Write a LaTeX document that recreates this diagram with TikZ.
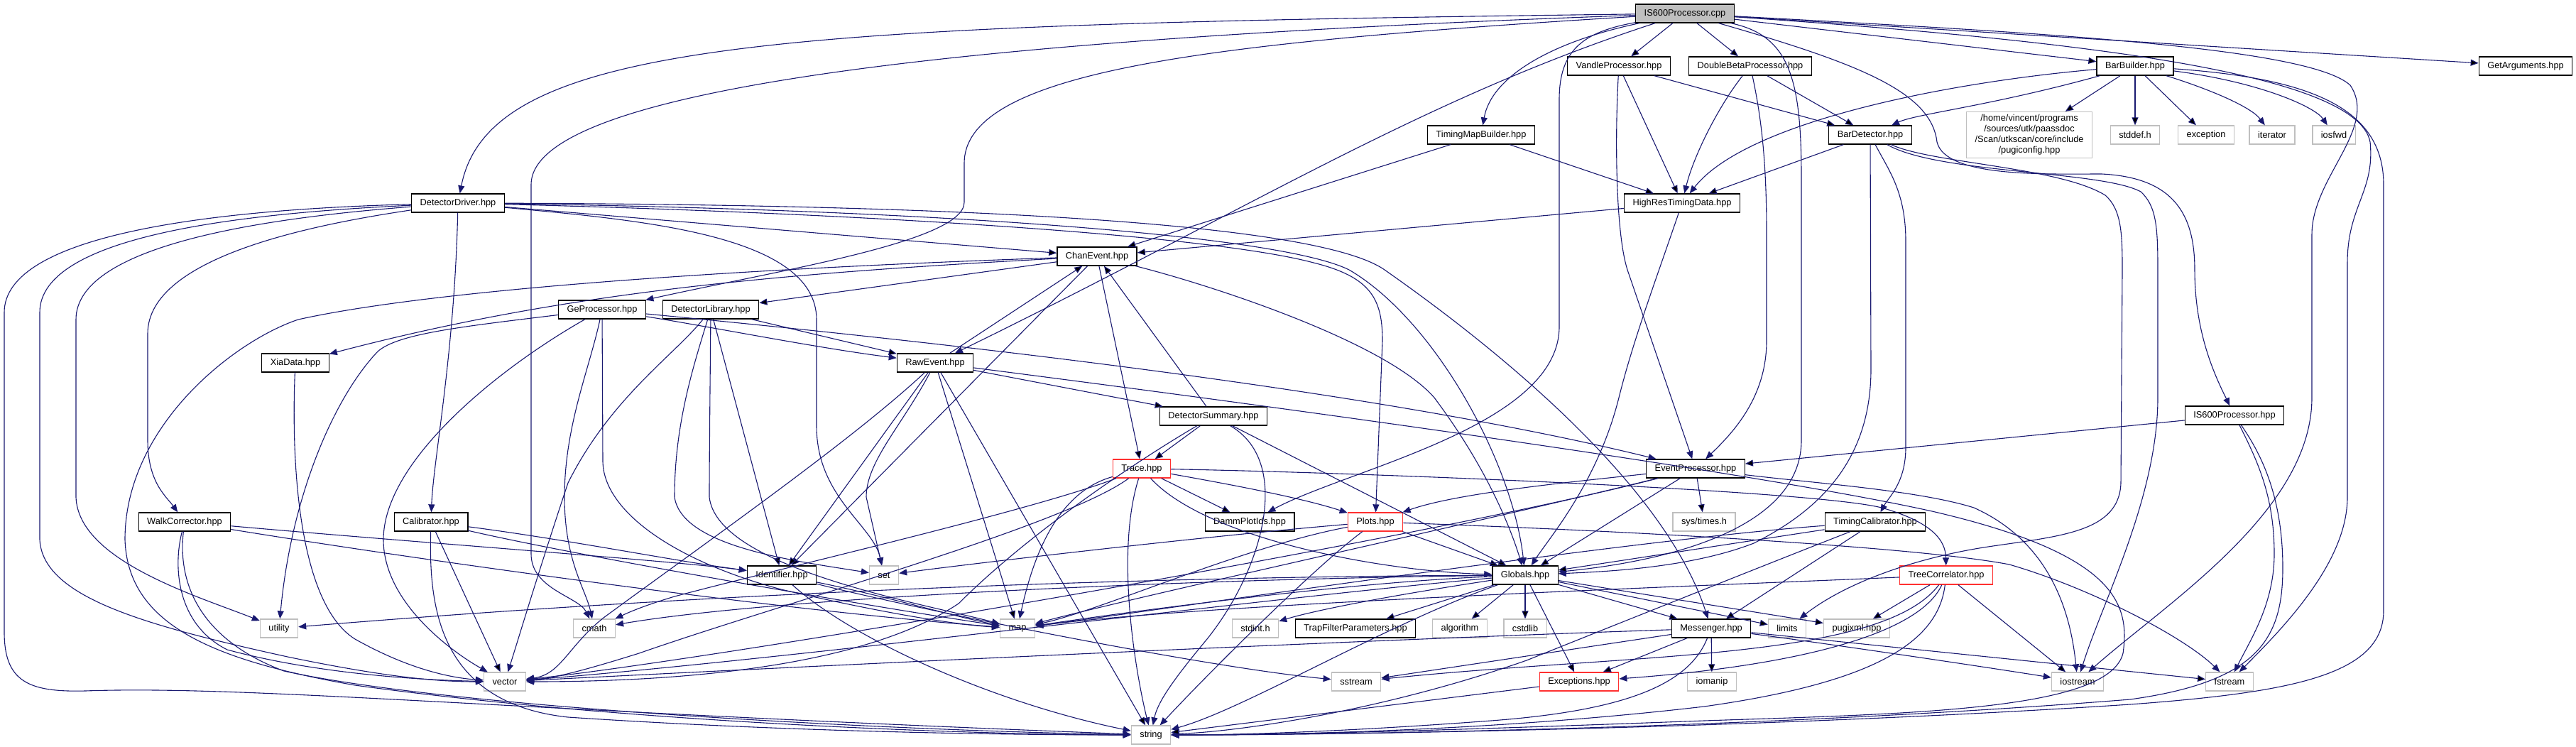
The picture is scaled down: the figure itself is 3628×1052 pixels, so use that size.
\documentclass[tikz,border=0pt]{standalone}
\usepackage{fontspec}
\setmainfont{Liberation Sans}
\usetikzlibrary{arrows.meta}
\definecolor{edgecol}{HTML}{191970}
\definecolor{sysgrey}{HTML}{BFBFBF}
\definecolor{partred}{HTML}{FF3030}
\tikzset{
  filebox/.style={draw=black, line width=1.3pt, fill=white, minimum height=26pt,
    inner xsep=12pt, inner ysep=0pt, font=\fontsize{12.8}{15}\selectfont},
  sysbox/.style={filebox, draw=sysgrey},
  partbox/.style={filebox, draw=partred},
  rootbox/.style={filebox, fill=sysgrey},
  incl/.style={draw=edgecol, line width=1.1pt, -{Triangle[length=11pt,width=9pt]}}
}
\begin{document}
\begin{tikzpicture}[x=1pt, y=-1pt]
  \useasboundingbox (0,0) rectangle (3628,1052);
  \node[rootbox] (root) at (2373,19) {IS600Processor.cpp};
  \node[filebox] (ddrv) at (645,286) {DetectorDriver.hpp};
  \node[filebox] (vandle) at (2280,93) {VandleProcessor.hpp};
  \node[filebox] (dbeta) at (2465,93) {DoubleBetaProcessor.hpp};
  \node[filebox] (barb) at (3007,93) {BarBuilder.hpp};
  \node[filebox] (getarg) at (3557,93) {GetArguments.hpp};
  \node[filebox] (tmb) at (2086,190) {TimingMapBuilder.hpp};
  \node[filebox] (bardet) at (2634,190) {BarDetector.hpp};
  \node[sysbox, align=center, inner ysep=4pt] (pugicfg) at (2858,190)
    {/home/vincent/programs\\/sources/utk/paassdoc\\/Scan/utkscan/core/include\\/pugiconfig.hpp};
  \node[sysbox] (stddef) at (3007,190) {stddef.h};
  \node[sysbox] (except) at (3107,190) {exception};
  \node[sysbox] (iter) at (3200,190) {iterator};
  \node[sysbox] (iosfwd) at (3287,190) {iosfwd};
  \node[filebox] (hrtd) at (2369,286) {HighResTimingData.hpp};
  \node[filebox] (chan) at (1545,361) {ChanEvent.hpp};
  \node[filebox] (gepr) at (848,436) {GeProcessor.hpp};
  \node[filebox] (detlib) at (1001,436) {DetectorLibrary.hpp};
  \node[filebox] (xia) at (416,511) {XiaData.hpp};
  \node[filebox] (raw) at (1317,511) {RawEvent.hpp};
  \node[filebox] (dsum) at (1709,586) {DetectorSummary.hpp};
  \node[filebox] (is600h) at (3147,585) {IS600Processor.hpp};
  \node[partbox] (trace) at (1608,660) {Trace.hpp};
  \node[filebox] (evproc) at (2388,660) {EventProcessor.hpp};
  \node[filebox] (walk) at (260,735) {WalkCorrector.hpp};
  \node[filebox] (calib) at (607,735) {Calibrator.hpp};
  \node[filebox] (damm) at (1760,735) {DammPlotIds.hpp};
  \node[partbox] (plots) at (1937,735) {Plots.hpp};
  \node[sysbox] (systimes) at (2400,735) {sys/times.h};
  \node[filebox] (tcal) at (2641,735) {TimingCalibrator.hpp};
  \node[filebox] (ident) at (1101,810) {Identifier.hpp};
  \node[sysbox] (set) at (1245,810) {set};
  \node[filebox] (globals) at (2148,810) {Globals.hpp};
  \node[partbox] (treecor) at (2741,810) {TreeCorrelator.hpp};
  \node[sysbox] (utility) at (393,885) {utility};
  \node[sysbox] (cmath) at (837,885) {cmath};
  \node[sysbox] (map) at (1433,885) {map};
  \node[sysbox] (stdint) at (1768,885) {stdint.h};
  \node[filebox] (trap) at (1909,885) {TrapFilterParameters.hpp};
  \node[sysbox] (algo) at (2056,885) {algorithm};
  \node[sysbox] (cstdlib) at (2148,885) {cstdlib};
  \node[filebox] (messenger) at (2410,885) {Messenger.hpp};
  \node[sysbox] (limits) at (2517,885) {limits};
  \node[sysbox] (pugixml) at (2615,885) {pugixml.hpp};
  \node[sysbox] (vector) at (711,960) {vector};
  \node[sysbox] (sstream) at (1910,960) {sstream};
  \node[partbox] (exceptions) at (2224,960) {Exceptions.hpp};
  \node[sysbox] (iomanip) at (2411,960) {iomanip};
  \node[sysbox] (iostream) at (2926,960) {iostream};
  \node[sysbox] (fstream) at (3140,960) {fstream};
  \node[sysbox] (string) at (1621,1035) {string};

  % IS600Processor.cpp
  \path[incl] (root) edge (vandle) edge (dbeta) edge (barb) edge (getarg);
  \draw[incl] (root) .. controls (1100,35) and (690,55) .. (ddrv);
  \draw[incl] (root) .. controls (1500,50) and (748,110) .. (748,260) -- (748,780) .. controls (748,830) and (815,840) .. (cmath);
  \draw[incl] (root) .. controls (1700,60) and (1358,100) .. (1358,230) -- (1358,285) .. controls (1358,340) and (1100,380) .. (gepr);
  \draw[incl] (root) .. controls (2000,140) and (1750,300) .. (raw);
  \draw[incl] (root) .. controls (2180,60) and (2100,110) .. (tmb);
  \draw[incl] (root) .. controls (2230,45) and (2196,70) .. (2196,140) -- (2196,460) .. controls (2196,600) and (1900,660) .. (damm);
  \draw[incl] (root) .. controls (2520,50) and (2537,110) .. (2537,250) -- (2537,620) .. controls (2537,760) and (2300,795) .. (globals);
  \draw[incl] (root) .. controls (2620,90) and (2720,130) .. (2728,200) .. controls (2740,250) and (2880,245) .. (2960,245)
    .. controls (3060,250) and (3091,300) .. (3091,380) .. controls (3091,470) and (3120,530) .. (is600h);
  \draw[incl] (root) .. controls (2850,45) and (3250,65) .. (3310,120) .. controls (3350,180) and (3256,250) .. (3256,330)
    -- (3256,560) .. controls (3256,720) and (3050,850) .. (iostream);
  \draw[incl] (root) .. controls (2900,55) and (3320,100) .. (3338,200) .. controls (3345,270) and (3306,290) .. (3306,370)
    -- (3306,700) .. controls (3306,790) and (3220,880) .. (fstream);

  % DetectorDriver.hpp
  \path[incl] (ddrv) edge (chan);
  \draw[incl] (ddrv) .. controls (300,295) and (6,330) .. (6,440) -- (6,890) .. controls (6,960) and (40,975) .. (120,973)
    .. controls (350,965) and (700,1000) .. (string);
  \draw[incl] (ddrv) .. controls (350,300) and (56,330) .. (56,440) -- (56,760) .. controls (60,840) and (200,880) .. (405,925)
    .. controls (550,955) and (620,960) .. (vector);
  \draw[incl] (ddrv) .. controls (400,305) and (107,340) .. (107,450) -- (107,700) .. controls (110,790) and (280,840) .. (utility);
  \draw[incl] (ddrv) .. controls (450,315) and (208,360) .. (208,470) -- (208,620) .. controls (208,680) and (235,700) .. (walk);
  \draw[incl] (ddrv) .. controls (640,500) and (610,650) .. (calib);
  \draw[incl] (ddrv) .. controls (900,310) and (1150,330) .. (1150,450) -- (1150,600) .. controls (1150,700) and (1230,740) .. (set);
  \draw[incl] (ddrv) .. controls (1200,300) and (1700,330) .. (1850,370) .. controls (1930,390) and (1947,420) .. (1947,480) -- (plots);
  \draw[incl] (ddrv) .. controls (1300,295) and (1800,330) .. (1900,380) .. controls (2020,450) and (2130,650) .. (globals);
  \draw[incl] (ddrv) .. controls (1300,288) and (1850,310) .. (1950,380) .. controls (2150,520) and (2350,700) .. (messenger);

  % VandleProcessor.hpp, DoubleBetaProcessor.hpp, TimingMapBuilder.hpp
  \path[incl] (vandle) edge (hrtd) edge (bardet);
  \draw[incl] (vandle) .. controls (2274,200) and (2276,330) .. (2292,380) -- (evproc);
  \path[incl] (dbeta) edge (bardet);
  \draw[incl] (dbeta) .. controls (2420,150) and (2385,220) .. (hrtd);
  \draw[incl] (dbeta) .. controls (2484,180) and (2488,250) .. (2488,330) -- (2488,480) .. controls (2488,560) and (2440,610) .. (evproc);
  \path[incl] (tmb) edge (hrtd) edge (chan);

  % BarBuilder.hpp
  \path[incl] (barb) edge (pugicfg) edge (stddef) edge (except);
  \draw[incl] (barb) .. controls (2750,115) and (2460,170) .. (hrtd);
  \draw[incl] (barb) .. controls (2800,150) and (2700,160) .. (bardet);
  \draw[incl] (barb) .. controls (3110,125) and (3170,150) .. (iter);
  \draw[incl] (barb) .. controls (3180,115) and (3260,150) .. (iosfwd);
  \draw[incl] (barb) .. controls (3250,110) and (3357,150) .. (3357,260) -- (3357,860) .. controls (3357,950) and (3230,975) .. (3000,992)
    .. controls (2500,1025) and (1900,1035) .. (string);

  % BarDetector.hpp
  \path[incl] (bardet) edge (hrtd);
  \draw[incl] (bardet) .. controls (2660,240) and (2684,270) .. (2684,340) -- (2684,630) .. controls (2684,680) and (2660,700) .. (tcal);
  \draw[incl] (bardet) -- (2635,520) .. controls (2635,650) and (2560,720) .. (2470,765) .. controls (2380,800) and (2260,805) .. (globals);
  \draw[incl] (bardet) .. controls (2720,230) and (2900,235) .. (2965,275) .. controls (2988,295) and (2989,330) .. (2989,380)
    -- (2987,680) .. controls (2985,750) and (2900,755) .. (2800,770) .. controls (2700,785) and (2600,820) .. (limits);
  \draw[incl] (bardet) .. controls (2730,245) and (2960,240) .. (3015,270) .. controls (3037,290) and (3039,320) .. (3039,380)
    -- (3039,560) .. controls (3039,700) and (2960,850) .. (iostream);

  % HighResTimingData.hpp
  \path[incl] (hrtd) edge (chan);
  \draw[incl] (hrtd) .. controls (2330,400) and (2300,480) .. (2280,560) .. controls (2250,680) and (2180,760) .. (globals);

  % ChanEvent.hpp
  \path[incl] (chan) edge (detlib) edge (ident) edge (trace);
  \draw[incl] (chan) .. controls (1100,385) and (800,410) .. (xia);
  \draw[incl] (chan) .. controls (1000,380) and (600,410) .. (420,450) .. controls (330,480) and (176,600) .. (176,760)
    .. controls (180,880) and (300,930) .. (500,965) .. controls (900,1020) and (1400,1035) .. (string);
  \draw[incl] (chan) .. controls (1700,400) and (1950,480) .. (2020,560) .. controls (2080,640) and (2120,720) .. (globals);

  % GeProcessor.hpp, XiaData.hpp, DetectorLibrary.hpp
  \draw[incl] (gepr) .. controls (1200,470) and (1900,540) .. (evproc);
  \draw[incl] (gepr) .. controls (1000,460) and (1150,490) .. (raw);
  \draw[incl] (gepr) .. controls (700,520) and (540,650) .. (540,760) .. controls (540,850) and (640,920) .. (vector);
  \draw[incl] (gepr) .. controls (830,520) and (795,600) .. (795,700) .. controls (795,790) and (825,830) .. (cmath);
  \draw[incl] (gepr) -- (849,650) .. controls (850,720) and (950,790) .. (1100,830) .. controls (1250,865) and (1350,880) .. (map);
  \draw[incl] (gepr) .. controls (650,460) and (560,470) .. (532,495) .. controls (470,560) and (410,700) .. (utility);
  \draw[incl] (xia) .. controls (410,650) and (420,850) .. (500,900) .. controls (580,945) and (640,955) .. (vector);
  \path[incl] (detlib) edge (raw) edge (ident);
  \draw[incl] (detlib) .. controls (950,500) and (860,560) .. (800,680) .. controls (760,800) and (730,900) .. (vector);
  \draw[incl] (detlib) .. controls (975,520) and (950,600) .. (950,700) .. controls (960,770) and (1120,790) .. (set);
  \draw[incl] (detlib) .. controls (1000,550) and (999,650) .. (999,700) .. controls (1010,800) and (1300,850) .. (map);

  % RawEvent.hpp, DetectorSummary.hpp
  \path[incl] (raw) edge (chan) edge (dsum) edge (ident) edge (map) edge (string);
  \draw[incl] (raw) .. controls (1270,600) and (1220,650) .. (1220,700) -- (set);
  \draw[incl] (raw) .. controls (1200,620) and (1000,760) .. (850,870) .. controls (800,910) and (790,950) .. (vector);
  \draw[incl] (raw) .. controls (1700,560) and (2450,660) .. (2721,720) .. controls (2980,780) and (3000,850) .. (2990,920)
    .. controls (2970,1000) and (2700,1005) .. (2400,1015) .. controls (2000,1030) and (1800,1035) .. (string);
  \path[incl] (dsum) edge (chan) edge (trace) edge (globals);
  \draw[incl] (dsum) .. controls (1600,650) and (1450,750) .. (1350,850) .. controls (1200,950) and (900,960) .. (vector);
  \draw[incl] (dsum) .. controls (1820,650) and (1780,800) .. (1700,900) .. controls (1650,960) and (1630,990) .. (string);

  % Trace.hpp
  \path[incl] (trace) edge (damm);
  \draw[incl] (trace) .. controls (1720,680) and (1830,700) .. (plots);
  \draw[incl] (trace) .. controls (1500,690) and (1460,760) .. (map);
  \draw[incl] (trace) .. controls (1700,760) and (1950,805) .. (globals);
  \draw[incl] (trace) .. controls (1450,720) and (1100,800) .. (950,840) .. controls (900,855) and (880,865) .. (cmath);
  \draw[incl] (trace) .. controls (1500,740) and (1100,850) .. (900,920) .. controls (820,945) and (780,955) .. (vector);
  \draw[incl] (trace) .. controls (1570,780) and (1600,950) .. (string);
  \draw[incl] (trace) .. controls (1900,665) and (2550,690) .. (2650,715) .. controls (2720,735) and (2740,760) .. (treecor);

  % EventProcessor.hpp, IS600Processor.hpp
  \path[incl] (evproc) edge (systimes) edge (globals);
  \draw[incl] (evproc) .. controls (2200,680) and (2050,695) .. (plots);
  \draw[incl] (evproc) .. controls (2150,720) and (1600,840) .. (map);
  \draw[incl] (evproc) .. controls (2000,760) and (1000,930) .. (vector);
  \draw[incl] (evproc) .. controls (2550,680) and (2700,690) .. (2780,715) .. controls (2880,760) and (2915,850) .. (iostream);
  \path[incl] (is600h) edge (evproc);
  \draw[incl] (is600h) .. controls (3180,650) and (3203,700) .. (3203,780) .. controls (3203,850) and (3170,900) .. (fstream);
  \draw[incl] (is600h) .. controls (3185,640) and (3215,700) .. (3215,800) .. controls (3215,900) and (3180,960) .. (3000,985)
    .. controls (2500,1025) and (1900,1035) .. (string);

  % WalkCorrector.hpp, Calibrator.hpp, Identifier.hpp
  \draw[incl] (walk) .. controls (600,765) and (950,790) .. (ident);
  \draw[incl] (walk) .. controls (600,790) and (1100,860) .. (map);
  \draw[incl] (walk) .. controls (243,800) and (250,880) .. (320,915) .. controls (450,950) and (600,958) .. (vector);
  \draw[incl] (walk) .. controls (250,820) and (280,900) .. (400,945) .. controls (650,1000) and (1300,1030) .. (string);
  \path[incl] (calib) edge (vector);
  \draw[incl] (calib) .. controls (800,760) and (950,790) .. (ident);
  \draw[incl] (calib) .. controls (800,780) and (1200,850) .. (map);
  \draw[incl] (calib) .. controls (604,850) and (615,990) .. (800,1010) .. controls (1100,1030) and (1400,1035) .. (string);
  \draw[incl] (ident) .. controls (1250,840) and (1350,870) .. (map);
  \draw[incl] (ident) .. controls (1200,900) and (1400,990) .. (string);
  \draw[incl] (ident) .. controls (1300,860) and (1700,940) .. (sstream);

  % Plots.hpp, TimingCalibrator.hpp
  \path[incl] (plots) edge (globals);
  \draw[incl] (plots) .. controls (1700,755) and (1400,790) .. (set);
  \draw[incl] (plots) .. controls (1750,770) and (1550,860) .. (map);
  \draw[incl] (plots) .. controls (1850,800) and (1700,950) .. (string);
  \draw[incl] (plots) .. controls (2300,748) and (2700,770) .. (2830,795) .. controls (2950,830) and (3080,900) .. (fstream);
  \path[incl] (tcal) edge (globals) edge (messenger);
  \draw[incl] (tcal) .. controls (2300,760) and (1700,850) .. (map);
  \draw[incl] (tcal) .. controls (2500,790) and (2300,870) .. (2150,930) .. controls (1950,1000) and (1750,1030) .. (string);

  % Globals.hpp
  \path[incl] (globals) edge (trap) edge (algo) edge (cstdlib) edge (messenger) edge (limits) edge (pugixml) edge (exceptions);
  \draw[incl] (globals) .. controls (1950,840) and (1850,860) .. (stdint);
  \draw[incl] (globals) .. controls (1900,820) and (1600,860) .. (map);
  \draw[incl] (globals) .. controls (1800,840) and (1100,930) .. (vector);
  \draw[incl] (globals) .. controls (1950,880) and (1750,1000) .. (string);
  \draw[incl] (globals) .. controls (1700,815) and (1100,840) .. (cmath);
  \draw[incl] (globals) .. controls (1600,812) and (1000,835) .. (utility);

  % Messenger.hpp, TreeCorrelator.hpp, Exceptions.hpp
  \path[incl] (messenger) edge (sstream) edge (exceptions) edge (iomanip) edge (fstream);
  \draw[incl] (messenger) .. controls (2100,895) and (1500,920) .. (vector);
  \draw[incl] (messenger) .. controls (2380,960) and (2300,1000) .. (2100,1015) .. controls (1900,1030) and (1750,1035) .. (string);
  \draw[incl] (messenger) .. controls (2600,910) and (2800,940) .. (iostream);
  \path[incl] (treecor) edge (pugixml) edge (iostream);
  \draw[incl] (treecor) .. controls (2700,900) and (2500,940) .. (exceptions);
  \draw[incl] (treecor) .. controls (2730,900) and (2650,960) .. (2400,995) .. controls (2100,1030) and (1800,1035) .. (string);
  \draw[incl] (treecor) .. controls (2650,930) and (2300,920) .. (sstream);
  \draw[incl] (treecor) .. controls (2400,825) and (1700,850) .. (map);
  \path[incl] (exceptions) edge (string);
\end{tikzpicture}
\end{document}
